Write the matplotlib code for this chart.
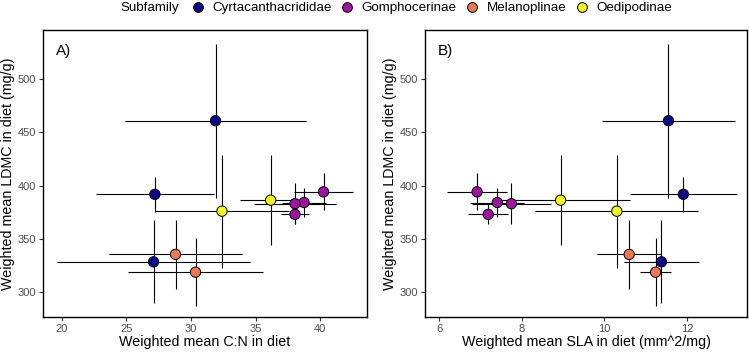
import matplotlib
matplotlib.use('Agg')
import matplotlib.pyplot as plt
from matplotlib.lines import Line2D

plt.rcParams['font.family'] = ['Liberation Sans', 'DejaVu Sans']

# one row per grasshopper species: weighted diet means +/- sd
subfamily = ['Cyrtacanthacrididae', 'Cyrtacanthacrididae', 'Cyrtacanthacrididae',
             'Gomphocerinae', 'Gomphocerinae', 'Gomphocerinae', 'Gomphocerinae',
             'Melanoplinae', 'Melanoplinae', 'Oedipodinae', 'Oedipodinae']
cn = [31.9, 27.2, 27.1, 40.27, 38.76, 38.06, 38.06, 28.8, 30.35, 32.4, 36.17]
cn_sd = [7.0, 4.6, 7.45, 2.29, 1.68, 3.17, 1.1, 5.17, 5.25, 5.2, 2.35]
sla = [11.55, 11.91, 11.38, 6.92, 7.41, 7.75, 7.19, 10.6, 11.24, 10.3, 8.94]
sla_sd = [1.6, 1.3, 0.9, 0.72, 0.65, 0.96, 0.48, 0.78, 0.38, 1.97, 1.67]
ldmc = [461, 392, 328.7, 394.3, 384.3, 383.2, 373.2, 335.7, 319, 376.2, 386.5]
ldmc_sd = [72, 16.4, 39, 17.2, 13.3, 19, 9.4, 32, 31.7, 53, 42.2]

subfamilies = ['Cyrtacanthacrididae', 'Gomphocerinae', 'Melanoplinae', 'Oedipodinae']
colors = ['#0D0887', '#9C179E', '#ED7953', '#F0F921']
col_of = dict(zip(subfamilies, colors))

fig = plt.figure(figsize=(7.49, 3.53), dpi=100)
axA = fig.add_axes([43/749, 36/353, 324/749, 287/353])
axB = fig.add_axes([425/749, 36/353, 322/749, 287/353])


def panel(ax, x, xerr, xlabel, tag, xlim, xticks):
    ax.errorbar(x, ldmc, xerr=xerr, yerr=ldmc_sd, fmt='none', ecolor='black',
                elinewidth=0.8, capsize=0, zorder=1)
    ax.scatter(x, ldmc, s=55, c=[col_of[s] for s in subfamily],
               edgecolors='black', linewidths=0.7, zorder=2)
    ax.set_xlim(xlim)
    ax.set_ylim(277, 546)
    ax.set_xticks(xticks)
    ax.set_yticks([300, 350, 400, 450, 500])
    ax.set_xlabel(xlabel, fontsize=10.3, labelpad=1)
    ax.set_ylabel('Weighted mean LDMC in diet (mg/g)', fontsize=10.3, labelpad=2)
    ax.tick_params(length=3, width=0.8, color='#333333', labelcolor='#4D4D4D',
                   labelsize=8, pad=2)
    for sp in ax.spines.values():
        sp.set_linewidth(1.0)
    ax.text(0.04, 0.95, tag, transform=ax.transAxes, fontsize=11, va='top', ha='left')


panel(axA, cn, cn_sd, 'Weighted mean C:N in diet', 'A)', (18.53, 43.64), [20, 25, 30, 35, 40])
panel(axB, sla, sla_sd, 'Weighted mean SLA in diet (mm^2/mg)', 'B)', (5.66, 13.45), [6, 8, 10, 12])

fig.text(120/749, 1 - 8/353, 'Subfamily', fontsize=9.6, va='center', ha='left')
handles = [Line2D([], [], ls='none', marker='o', markersize=7, markerfacecolor=c,
                  markeredgecolor='black', markeredgewidth=0.7) for c in colors]
fig.legend(handles, subfamilies, loc='center left', bbox_to_anchor=(191/749, 1 - 8/353),
           ncol=4, frameon=False, fontsize=9.6, handlelength=1.0, handletextpad=0.6,
           columnspacing=0.65, borderpad=0, borderaxespad=0)

fig.savefig('out.png', dpi=100)
